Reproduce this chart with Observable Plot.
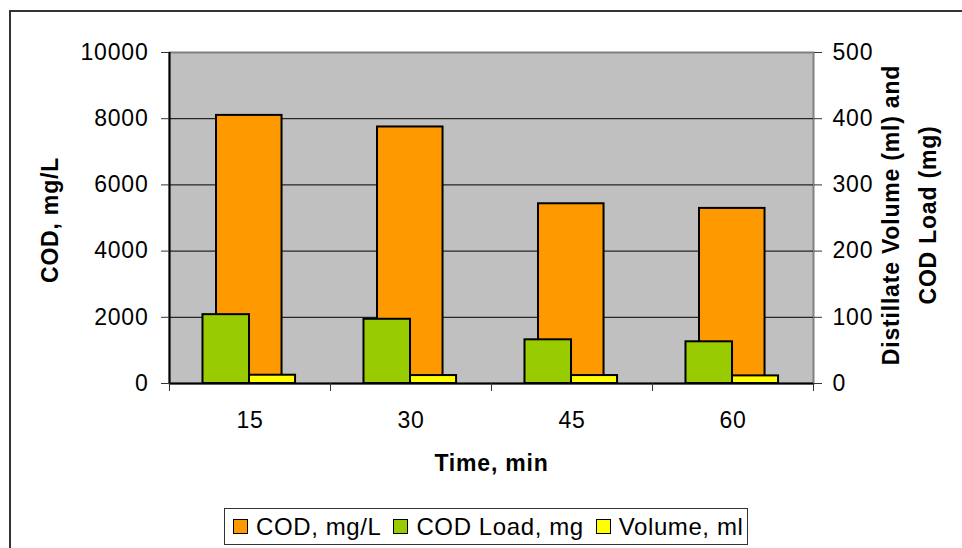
<!DOCTYPE html>
<html><head><meta charset="utf-8">
<script src="https://cdn.jsdelivr.net/npm/d3@7"></script>
<script src="https://cdn.jsdelivr.net/npm/@observablehq/plot@0.6"></script>
<style>
html,body{margin:0;padding:0;background:#fff;overflow:hidden}
#wrap{position:relative;width:962px;height:548px;overflow:hidden;font-family:"Liberation Sans",Arial,sans-serif}
#border{position:absolute;left:9px;top:10px;width:1000px;height:600px;border:2px solid #333;box-sizing:border-box}
#chart{position:absolute;left:0;top:0}
#legend{position:absolute;left:224px;top:508px;height:37px;box-sizing:border-box;border:1px solid #333;background:#fff;display:flex;align-items:center;padding-left:8px;padding-right:4px;font-size:24px;letter-spacing:0.6px;color:#000}
.item{display:flex;align-items:center;margin-right:12px;white-space:nowrap}
.item:last-child{margin-right:0}
.sw{width:15px;height:15px;box-sizing:border-box;border:1.5px solid #000;margin-right:8px}
</style></head><body>
<div id="wrap"><div id="border"></div><div id="chart"></div><div id="legend"></div></div>
<script>
const times = [15, 30, 45, 60];
const codMgL = [8100, 7750, 5430, 5290];
const codLoadMg = [104, 97, 66, 63];
const volumeMl = [12.5, 12, 12, 11.5];
const seriesNames = ["COD, mg/L", "COD Load, mg", "Volume, ml"];
const seriesColors = ["#FF9900", "#99CC00", "#FFFF00"];
const leftTicks = [0, 2000, 4000, 6000, 8000, 10000];
const rightTicks = [0, 100, 200, 300, 400, 500];
const ratio = 20; // secondary axis (0-500) mapped onto primary (0-10000)

const rows = times.map((t, i) => ({i, time: t, cod: codMgL[i], load: codLoadMg[i], vol: volumeMl[i]}));

const chart = Plot.plot({
  width: 962, height: 500,
  marginLeft: 169, marginRight: 149, marginTop: 52, marginBottom: 117,
  x: {domain: [0, times.length], axis: null},
  y: {domain: [0, 10000], axis: null},
  style: {fontFamily: '"Liberation Sans", Arial, sans-serif', fontSize: "23px", letterSpacing: "0.8px", color: "#000", background: "transparent", overflow: "visible"},
  marks: [
    Plot.frame({fill: "#c0c0c0", stroke: "#808080", strokeWidth: 2}),
    Plot.ruleY(leftTicks.slice(1, -1), {stroke: "#000", strokeWidth: 1}),
    Plot.rect(rows, {x1: d => d.i + 0.292, x2: d => d.i + 0.699, y1: () => 0, y2: "cod", fill: seriesColors[0], stroke: "#000", strokeWidth: 2}),
    Plot.rect(rows, {x1: d => d.i + 0.208, x2: d => d.i + 0.497, y1: () => 0, y2: d => d.load * ratio, fill: seriesColors[1], stroke: "#000", strokeWidth: 2}),
    Plot.rect(rows, {x1: d => d.i + 0.497, x2: d => d.i + 0.783, y1: () => 0, y2: d => d.vol * ratio, fill: seriesColors[2], stroke: "#000", strokeWidth: 2}),
    Plot.ruleX([0], {stroke: "#000", strokeWidth: 2}),
    Plot.ruleY([0], {stroke: "#000", strokeWidth: 2}),
    Plot.axisY({anchor: "left", ticks: leftTicks, tickSize: 8, tickPadding: 13, label: null, tickFormat: d => String(d), stroke: "#333"}),
    Plot.axisY({anchor: "right", ticks: rightTicks.map(v => v * ratio), tickSize: 8, tickPadding: 11, label: null, tickFormat: d => String(d / ratio), stroke: "#333"}),
    Plot.axisX({ticks: d3.range(times.length + 1), tickSize: 8, tickFormat: () => "", label: null, stroke: "#333"}),
    Plot.axisX({ticks: times.map((t, i) => i + 0.5), tickSize: 0, tickPadding: 28, label: null, tickFormat: d => String(times[Math.floor(d)])}),
    Plot.text(["Time, min"], {frameAnchor: "bottom", dy: 80, textAnchor: "middle", lineAnchor: "middle", fontWeight: "bold", text: d => d}),
    Plot.text(["COD, mg/L"], {frameAnchor: "left", dx: -119, dy: 2, rotate: -90, textAnchor: "middle", lineAnchor: "middle", fontWeight: "bold", text: d => d}),
    Plot.text(["Distillate Volume (ml) and\nCOD Load (mg)"], {frameAnchor: "right", dx: 92, dy: -3, rotate: -90, textAnchor: "middle", lineAnchor: "middle", fontWeight: "bold", lineHeight: 1.6, text: d => d})
  ]
});
document.getElementById("chart").appendChild(chart);

const legend = document.getElementById("legend");
seriesNames.forEach((name, k) => {
  const item = document.createElement("div");
  item.className = "item";
  const sw = document.createElement("div");
  sw.className = "sw";
  sw.style.background = seriesColors[k];
  const label = document.createElement("span");
  label.textContent = name;
  item.appendChild(sw);
  item.appendChild(label);
  legend.appendChild(item);
});
</script>
</body></html>
